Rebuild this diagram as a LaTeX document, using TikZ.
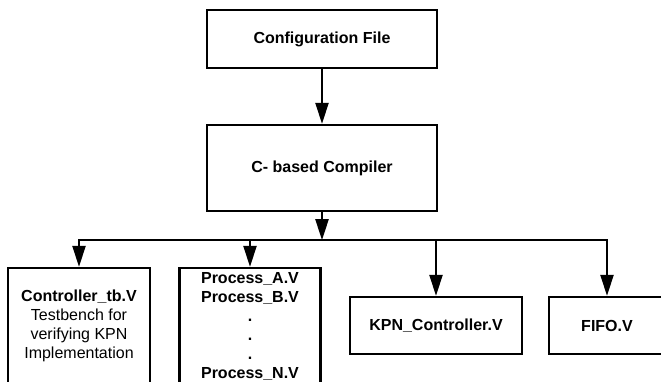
\documentclass[tikz,border=0pt]{standalone}
\usepackage{fontspec}
\setmainfont{Liberation Sans}
\usetikzlibrary{arrows.meta}

\begin{document}
\begin{tikzpicture}[
  x = 1pt, y = -1pt,
  block/.style = {draw, line width = 2.3pt, align = center, inner sep = 0pt,
                  font = \fontsize{16}{19}\selectfont},
  bold/.style = {font = \fontsize{16}{19}\selectfont\bfseries},
  tip/.style = {Triangle[length = 21pt, width = 13pt]},
  arrow/.style = {line width = 2.3pt, -{Triangle[length = 21pt, width = 13pt]}},
  ]
  \useasboundingbox (0,0) rectangle (661,381);
  \clip (0,0) rectangle (661,381);
  \node[block, bold, minimum width = 230, minimum height = 58] (config) at (322,39)
    {Configuration File};
  \node[block, bold, minimum width = 230, minimum height = 86] (compiler) at (322,168)
    {C- based Compiler};
  \node[block, minimum width = 142, minimum height = 116] (tb) at (79,326)
    {\textbf{Controller\_tb.V}\\ Testbench for\\ verifying KPN\\ Implementation};
  \node[block, bold, minimum width = 141, minimum height = 116] (proc) at (250,326)
    {Process\_A.V\\ Process\_B.V\\ .\\ .\\ .\\ Process\_N.V};
  \node[block, bold, minimum width = 172, minimum height = 57] (kpn) at (436,325.5)
    {KPN\_Controller.V};
  \node[block, bold, minimum width = 116, minimum height = 57] (fifo) at (607,325.5)
    {FIFO.V};
  % connectors
  \draw[arrow] (config) -- (compiler);
  \draw[arrow] (compiler.south) -- ++(0,28) coordinate (bus);
  \draw[line width = 2.3pt, {Triangle[length = 21pt, width = 13pt]}-{Triangle[length = 21pt, width = 13pt]}]
    (tb.north) |- (bus) -| (fifo.north);
  \draw[arrow] (bus -| proc.north) -- (proc.north);
  \draw[arrow] (bus -| kpn.north) -- (kpn.north);
\end{tikzpicture}
\end{document}
